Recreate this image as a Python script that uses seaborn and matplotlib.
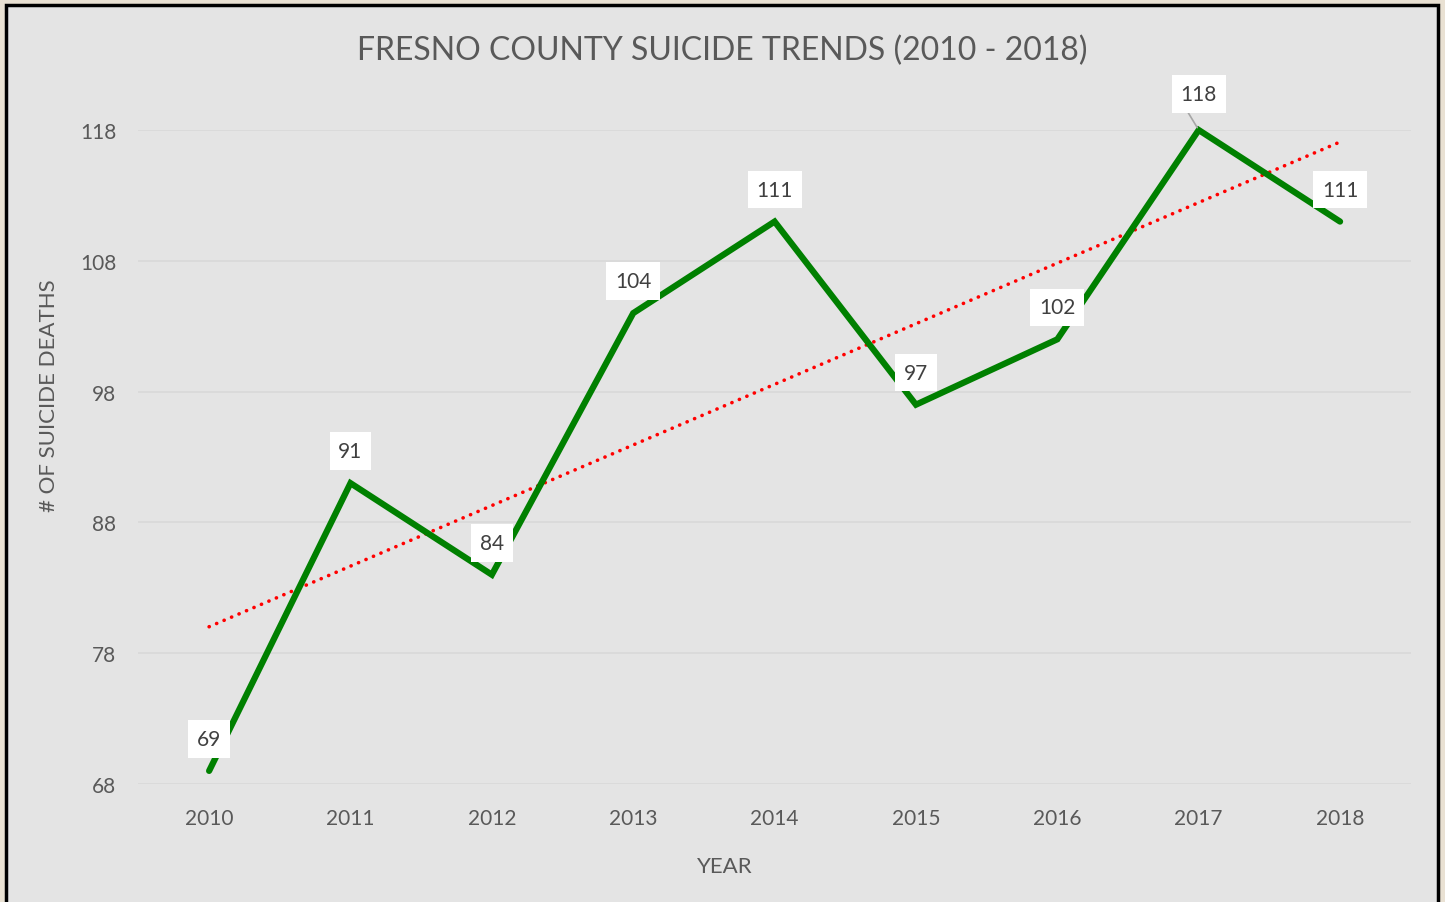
import numpy as np
import pandas as pd
import matplotlib
matplotlib.use('Agg')
import matplotlib.pyplot as plt
import seaborn as sns
from matplotlib.patches import Rectangle

# data
years = [2010, 2011, 2012, 2013, 2014, 2015, 2016, 2017, 2018]
deaths = [69, 91, 84, 104, 111, 97, 102, 118, 111]
y_ticks = [68, 78, 88, 98, 108, 118]

df = pd.DataFrame({'year': years, 'deaths': deaths})

sns.set_style('white')
plt.rcParams['font.family'] = ['Lato', 'DejaVu Sans']

text_color = '#595959'
panel_color = '#E4E4E4'

fig = plt.figure(figsize=(14.45, 9.03), dpi=100)
fig.patch.set_facecolor('#E9E1D3')

# chart panel with black frame
fig.patches.append(Rectangle(
    (6 / 1445, -0.02), 1432 / 1445, 1 - 6 / 903 + 0.02,
    transform=fig.transFigure, facecolor=panel_color,
    edgecolor='black', linewidth=2.5, zorder=-5
))

ax = fig.add_axes([0.0958, 0.1307, 0.8805, 0.7242])
ax.set_facecolor(panel_color)
ax.set_zorder(2)

# linear trend
sns.regplot(
    x='year', y='deaths', data=df, scatter=False, ci=None, ax=ax,
    line_kws=dict(color='red', linewidth=2.6,
                  linestyle=(0, (0.05, 2.2)), dash_capstyle='round')
)

sns.lineplot(
    x='year', y='deaths', data=df, ax=ax, color='#008000',
    linewidth=4.5, solid_capstyle='round', solid_joinstyle='miter',
    zorder=3
)
for line in ax.lines:
    line.set_clip_on(False)

# data labels
for yr, val in zip(years, deaths):
    off = 26 if yr == 2017 else 23
    ax.annotate(
        str(val), xy=(yr, val), xytext=(0, off), textcoords='offset points',
        ha='center', va='center', fontsize=15, color='#404040',
        bbox=dict(boxstyle='square,pad=0.42', facecolor='white',
                  edgecolor='none'),
        zorder=5
    )
ax.annotate('', xy=(2017, 118), xytext=(2016.86, 120.5),
            arrowprops=dict(arrowstyle='-', color='#A6A6A6', lw=1.2),
            annotation_clip=False, zorder=4)

ax.set_xlim(2009.5, 2018.5)
ax.set_ylim(68, 118)
ax.set_yticks(y_ticks)
ax.set_xticks(years)
ax.yaxis.grid(True, color='#D9D9D9', linewidth=1.3)
ax.set_axisbelow(True)
for s in ax.spines.values():
    s.set_visible(False)
ax.tick_params(axis='both', length=0, labelsize=15, labelcolor=text_color)
ax.tick_params(axis='y', pad=16)
ax.tick_params(axis='x', pad=17)

ax.set_xlabel('')
ax.set_ylabel('# OF SUICIDE DEATHS', fontsize=16, color=text_color)
ax.yaxis.set_label_coords(-0.0625, 0.595)
fig.text(725 / 1445, 1 - 867 / 903, 'YEAR', ha='center', va='center',
         fontsize=16, color=text_color)
fig.text(0.5, 0.944, 'FRESNO COUNTY SUICIDE TRENDS (2010 - 2018)',
         ha='center', va='center', fontsize=23, color=text_color)

plt.savefig('out.png', dpi=100, facecolor=fig.get_facecolor())
